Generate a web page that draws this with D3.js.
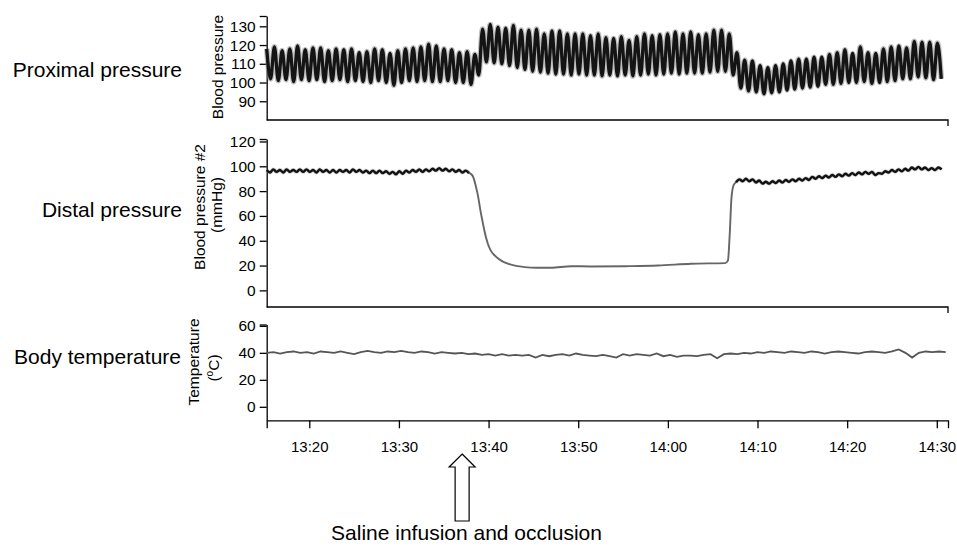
<!doctype html>
<html>
<head>
<meta charset="utf-8">
<title>Proximal / distal pressure and body temperature</title>
<script src="https://cdn.jsdelivr.net/npm/d3@7"></script>
<style>
  body { margin: 0; background: #fff; }
  svg { font-family: Arial, "Liberation Sans", sans-serif; }
  .axis path, .axis line { stroke: #000; stroke-width: 1.3; }
  .axis text { fill: #000; }
  .lbl { font-size: 21px; fill: #000; }
  .ytitle { font-size: 15.5px; fill: #000; }
</style>
</head>
<body>
<svg id="chart" width="957" height="548"></svg>
<script>
// ---- data (minutes after 13:15) ----
// proximal pressure: one peak + one trough per breathing cycle
const proxStart = 0.25, proxCycle = 0.86;
const proxPeaks = [118, 119, 117, 118, 119.5, 117.5, 118.5, 118.5, 117, 118,
  117.5, 118, 116, 116.5, 118, 117.5, 115.5, 117, 118, 118.5,
  119, 120.5, 119.5, 118, 117.5, 116, 116.5, 115, 128.5, 131,
  129.5, 129, 130.5, 128, 128, 128.5, 126, 127.5, 127.5, 126,
  126, 126, 125, 126, 124, 123.5, 124.5, 122.5, 124.5, 126,
  125, 125.5, 126, 127, 126, 127, 125.5, 126, 128, 128,
  126, 116, 112, 111.5, 109, 108, 109, 110, 111.5, 112.5,
  112.5, 113.5, 113.5, 115, 116, 117.5, 115.5, 119, 116, 115.5,
  118, 119, 119.5, 118.5, 122, 121.5, 121.5, 121];
const proxTroughs = [102, 101, 101.5, 100.5, 101.5, 101, 101.5, 100.5, 101, 101.5,
  100.5, 101, 100.5, 100, 101, 100, 98.5, 100, 101, 100.5,
  101, 100.5, 100.5, 101, 100, 100, 99, 104, 111, 110.5,
  110, 109, 108, 107, 106, 105.5, 105, 104.5, 104.5, 104,
  104.5, 104, 104, 103.5, 104, 103.5, 104, 103.5, 104, 104.5,
  104, 104.5, 105, 104.5, 105, 105, 105, 105.5, 106, 106,
  104, 97, 95.5, 95, 94, 94.5, 95, 96, 96.5, 97,
  97.5, 98, 99, 99, 99.5, 100, 100, 100.5, 99.5, 100,
  100.5, 101, 102, 102, 103, 102.5, 101.5, 102];

// distal pressure: ripple before occlusion, occlusion curve, ripple after release
const distalStep = 0.37;
const distalPreStart = 0.25;
const distalPre = [97, 95, 97.5, 95.5, 97, 95, 97.5, 95.5, 97, 95.5,
  97.5, 95.5, 97.5, 95.5, 97, 95, 97.5, 95.5, 97, 95,
  97, 95, 97, 95.5, 97, 95, 97.5, 95.5, 97, 95,
  96.5, 94.5, 96.5, 94.5, 96.5, 94.5, 96, 94, 95.5, 93.5,
  96, 94, 96.5, 95, 97, 95.5, 97.5, 95.5, 97.5, 96,
  98, 96.5, 98.5, 96.5, 98, 96, 97.5, 95.5, 97, 95,
  96.5, 94.5];
const distalOccT = [23.0, 23.25, 23.58, 23.8, 24.15, 24.37, 24.6, 24.9, 25.25, 25.7,
  26.4, 27.15, 28.27, 29.7, 31.95, 34.2, 36.4, 40.2, 43.9, 47.6,
  51.4, 51.7, 51.9, 52.1, 52.35];
const distalOccV = [94, 92, 84, 77, 62, 54, 46, 38, 32, 28,
  24, 21.5, 19.5, 18.3, 18.2, 19.5, 19.3, 19.5, 20, 21.5,
  22, 24, 45, 75, 85];
const distalPostStart = 52.6;
const distalPost = [87, 89.5, 88, 90, 88, 89.5, 87, 88.5, 86, 87.5,
  86, 88, 86.5, 88.5, 87, 89, 87.5, 89.5, 88, 90,
  88.5, 90.5, 89, 91.5, 90, 92, 90.5, 92.5, 91, 93,
  91.5, 93.5, 92, 94, 92.5, 94.5, 93, 95, 93.5, 95.5,
  94, 95.5, 93, 94.5, 94, 96, 95, 97, 95.5, 97.5,
  96, 98, 96.5, 99, 97.5, 99.5, 97.5, 99, 97, 98.5,
  97, 99, 97.5];

// body temperature
const tempStart = 0.25, tempStep = 0.75;
const tempValues = [40, 40.5, 39.5, 40.5, 41, 40, 40.5, 39.5, 41, 40.5,
  40, 41, 40, 39, 40.5, 41.5, 40.5, 40, 41, 40.5,
  41.5, 40.5, 40, 41, 40.5, 39.5, 40.5, 40, 39.5, 40,
  39, 39.5, 38.5, 39, 38, 39, 38, 38.5, 38, 38.5,
  36.5, 38.5, 37.5, 38.5, 39, 38, 39.5, 38.5, 38, 37.5,
  38.5, 37.5, 36.5, 39, 38, 39, 38.5, 38, 39.5, 37.5,
  38.5, 37, 38, 38, 37.5, 38.5, 39, 36, 39, 39.5,
  39, 40, 39.5, 40.5, 40, 41, 40.5, 40, 41, 40.5,
  40, 41, 40.5, 39.5, 40.5, 41, 40.5, 40, 39.5, 40.5,
  41, 40.5, 40, 41, 42.5, 40, 36.5, 40, 41, 40.5,
  41, 40.5];

const proxTicks = [90, 100, 110, 120, 130];
const distTicks = [0, 20, 40, 60, 80, 100, 120];
const tempTicks = [0, 20, 40, 60];
const eventMinute = 22.05; // arrow: saline infusion

// ---- scales ----
const svg = d3.select("#chart");
const t0 = new Date(2000, 0, 1, 13, 15, 0);
const at = m => new Date(t0.getTime() + m * 60000);

const x = d3.scaleTime().domain([at(0.25), at(76.25)]).range([266.7, 948]);
const yProx = d3.scaleLinear().domain([80, 135.5]).range([120, 16]);
const yDist = d3.scaleLinear().domain([-13.4, 122]).range([307, 139]);
const yTemp = d3.scaleLinear().domain([-10, 61]).range([420.3, 324.5]);

// ---- axes ----
function yAxis(scale, ticks) {
  const top = scale.domain()[1];
  const g = svg.append("g").attr("class", "axis")
    .attr("transform", "translate(" + x.range()[0] + ",0)")
    .call(d3.axisLeft(scale).tickValues(ticks.concat([top]))
      .tickFormat(d => d === top ? "" : d)
      .tickSize(7).tickSizeOuter(0).tickPadding(4));
  g.selectAll("text").attr("font-size", 15.5).attr("font-family", "Arial, 'Liberation Sans', sans-serif");
}
yAxis(yProx, proxTicks);
yAxis(yDist, distTicks);
yAxis(yTemp, tempTicks);

// bottom line of upper panels, small tick at the right end
function baseLine(yy) {
  svg.append("path")
    .attr("d", "M" + x.range()[0] + "," + yy + "H" + x.range()[1] + "V" + (yy + 6))
    .attr("fill", "none").attr("stroke", "#000").attr("stroke-width", 1.3);
}
baseLine(yProx.range()[0]);
baseLine(yDist.range()[0]);

const xg = svg.append("g").attr("class", "axis")
  .attr("transform", "translate(0," + yTemp.range()[0] + ")")
  .call(d3.axisBottom(x).ticks(d3.timeMinute.every(10))
    .tickFormat(d3.timeFormat("%H:%M"))
    .tickSize(8).tickPadding(13));
xg.selectAll("text").attr("font-size", 15).attr("font-family", "Arial, 'Liberation Sans', sans-serif");

// ---- traces ----
const proxPts = [];
proxPeaks.forEach((p, i) => {
  proxPts.push([proxStart + i * proxCycle, p]);
  proxPts.push([proxStart + i * proxCycle + proxCycle / 2, proxTroughs[i]]);
});
const lineProx = d3.line().x(d => x(at(d[0]))).y(d => yProx(d[1])).curve(d3.curveMonotoneX);
svg.append("path").datum(proxPts).attr("d", lineProx)
  .attr("fill", "none").attr("stroke", "#8a8a8a").attr("stroke-width", 5.6).attr("stroke-opacity", 0.55);
svg.append("path").datum(proxPts).attr("d", lineProx)
  .attr("fill", "none").attr("stroke", "#141414").attr("stroke-width", 3.3);

const lineDist = d3.line().x(d => x(at(d[0]))).y(d => yDist(d[1])).curve(d3.curveMonotoneX);
const preP = distalPre.map((v, i) => [distalPreStart + i * distalStep, v]);
const postP = distalPost.map((v, i) => [distalPostStart + i * distalStep, v]);
const occP = distalOccT.map((t, i) => [t, distalOccV[i]]);
// occlusion part (thin grey), joined to both ripple parts
svg.append("path").datum([preP[preP.length - 1]].concat(occP, [postP[0]])).attr("d", lineDist)
  .attr("fill", "none").attr("stroke", "#666").attr("stroke-width", 1.9);
[preP, postP].forEach(pts => {
  svg.append("path").datum(pts).attr("d", lineDist)
    .attr("fill", "none").attr("stroke", "#999").attr("stroke-width", 3.8).attr("stroke-opacity", 0.5);
  svg.append("path").datum(pts).attr("d", lineDist)
    .attr("fill", "none").attr("stroke", "#111").attr("stroke-width", 2.4);
});

const tempP = tempValues.map((v, i) => [tempStart + i * tempStep, v]);
svg.append("path").datum(tempP)
  .attr("d", d3.line().x(d => x(at(d[0]))).y(d => yTemp(d[1])))
  .attr("fill", "none").attr("stroke", "#555").attr("stroke-width", 1.8);

// ---- labels ----
svg.append("text").attr("class", "lbl").attr("x", 182).attr("y", 77).attr("text-anchor", "end").text("Proximal pressure");
svg.append("text").attr("class", "lbl").attr("x", 182).attr("y", 217).attr("text-anchor", "end").text("Distal pressure");
svg.append("text").attr("class", "lbl").attr("x", 181).attr("y", 364).attr("text-anchor", "end").text("Body temperature");

function ytitle(tx, ty) {
  return svg.append("text").attr("class", "ytitle").attr("text-anchor", "middle")
    .attr("transform", "translate(" + tx + "," + ty + ") rotate(-90)");
}
ytitle(223, 67).text("Blood pressure");
ytitle(205, 207).text("Blood pressure #2");
ytitle(222, 205).text("(mmHg)");
ytitle(199, 362).text("Temperature");
const degC = ytitle(219, 368);
degC.append("tspan").text("(");
degC.append("tspan").attr("font-size", 10).attr("dy", -6).text("o");
degC.append("tspan").attr("dy", 6).text("C)");

// ---- arrow + note ----
const ax = x(at(eventMinute));
svg.append("path")
  .attr("d", "M" + ax + ",454 L" + (ax + 13) + ",467 H" + (ax + 7) + " V521 H" + (ax - 7) + " V467 H" + (ax - 13) + " Z")
  .attr("fill", "#fff").attr("stroke", "#000").attr("stroke-width", 1.2);
svg.append("text").attr("class", "lbl").attr("x", 466.5).attr("y", 540).attr("text-anchor", "middle")
  .text("Saline infusion and occlusion");
</script>
</body>
</html>
